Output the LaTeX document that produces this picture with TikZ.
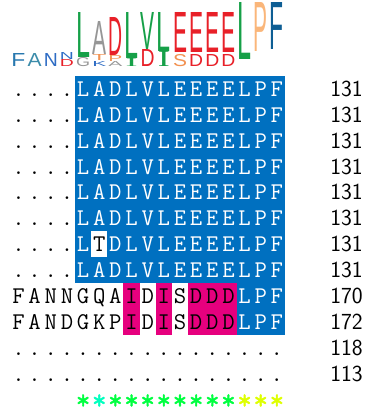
\documentclass[tikz,border=0pt]{standalone}
\usepackage{fontspec}
\usepackage{graphicx}
\newfontfamily\logofont{Liberation Sans}
\newfontfamily\logoserif{Liberation Serif}
\newfontfamily\starfont[FakeBold=1.5]{Latin Modern Mono}
\definecolor{alnblue}{RGB}{0,112,192}
\definecolor{alnpink}{RGB}{230,0,126}
\definecolor{lgreen}{RGB}{22,160,72}
\definecolor{lred}{RGB}{232,32,40}
\definecolor{lgray}{RGB}{150,150,150}
\definecolor{lorange}{RGB}{242,146,82}
\definecolor{lpeach}{RGB}{250,182,122}
\definecolor{lnavy}{RGB}{14,94,148}
\definecolor{lsteel}{RGB}{40,120,175}
\definecolor{lteal}{RGB}{60,140,170}
\definecolor{lblue}{RGB}{46,108,196}
\definecolor{stargreen}{RGB}{0,255,64}
\definecolor{starcyan}{RGB}{0,255,190}
\definecolor{staryellow}{RGB}{222,255,0}
\tikzset{
  res/.style={font=\ttfamily\fontsize{24}{24}\selectfont, inner sep=0pt, anchor=base},
  num/.style={font=\sffamily\fontsize{23}{23}\selectfont, inner sep=0pt, anchor=base east},
  logo/.style={inner sep=0pt, anchor=south},
  cons/.style={font=\starfont\fontsize{28}{28}\selectfont, inner sep=0pt, anchor=base},
}
\newcommand\colx[1]{18.5+16.15*#1}
% column, bottom, height, colour, letter
\newcommand\logochar[5]{%
  \node[logo, text=#4] (logo-#1-#5) at ({\colx{#1}},#2) {\resizebox{14pt}{#3pt}{\logofont #5}};}
\begin{document}
\begin{tikzpicture}[x=1pt, y=-1pt]
  \useasboundingbox (0,0) rectangle (370,412);
  % sequence logo
  \logochar{0}{67}{13}{lsteel}{F}
  \logochar{1}{67}{13}{lteal}{A}
  \logochar{2}{67}{13}{lblue}{N}
  \logochar{3}{67}{7}{lred}{D}
  \logochar{3}{60}{7}{lblue}{N}
  \logochar{4}{67}{9}{lgray}{G}
  \logochar{4}{58}{45}{lgreen}{L}
  \logochar{5}{67}{5}{lblue}{K}
  \logochar{5}{61}{6}{lorange}{T}
  \logochar{5}{55}{33}{lgray}{A}
  \logochar{6}{67}{5}{lgray}{A}
  \logochar{6}{62}{6}{lorange}{P}
  \logochar{6}{56}{38}{lred}{D}
  \node[logo, text=lgreen] (logo-7-I) at ({\colx{7}},67) {\resizebox{12pt}{8pt}{\logoserif I}};
  \logochar{7}{59}{46}{lgreen}{L}
  \logochar{8}{67}{17}{lred}{D}
  \logochar{8}{50}{37}{lgreen}{V}
  \node[logo, text=lgreen] (logo-9-I) at ({\colx{9}},67) {\resizebox{12pt}{15pt}{\logoserif I}};
  \logochar{9}{52}{39}{lgreen}{L}
  \logochar{10}{67}{12}{lorange}{S}
  \logochar{10}{53}{40}{lred}{E}
  \foreach \c in {11,12,13} {
    \logochar{\c}{67}{12}{lred}{D}
    \logochar{\c}{53}{40}{lred}{E}
  }
  \logochar{14}{60}{57}{lgreen}{L}
  \logochar{15}{52}{49}{lpeach}{P}
  \logochar{16}{50}{47}{lnavy}{F}
  % shading
  \fill[alnblue] (75,76) rectangle (285,283.2);
  \fill[white] (91.15,231.4) rectangle (107.3,257.3);
  \fill[alnblue] (236.5,283.2) rectangle (285,335);
  \fill[alnpink] (123.45,283.2) rectangle (139.6,335);
  \fill[alnpink] (155.75,283.2) rectangle (171.9,335);
  \fill[alnpink] (188.05,283.2) rectangle (236.5,335);
  % rows: index / residues / end number / first white column / black column
  \foreach \k/\seq/\num/\w/\b in {
      0/{.,.,.,.,L,A,D,L,V,L,E,E,E,E,L,P,F}/131/4/-1,
      1/{.,.,.,.,L,A,D,L,V,L,E,E,E,E,L,P,F}/131/4/-1,
      2/{.,.,.,.,L,A,D,L,V,L,E,E,E,E,L,P,F}/131/4/-1,
      3/{.,.,.,.,L,A,D,L,V,L,E,E,E,E,L,P,F}/131/4/-1,
      4/{.,.,.,.,L,A,D,L,V,L,E,E,E,E,L,P,F}/131/4/-1,
      5/{.,.,.,.,L,A,D,L,V,L,E,E,E,E,L,P,F}/131/4/-1,
      6/{.,.,.,.,L,T,D,L,V,L,E,E,E,E,L,P,F}/131/4/5,
      7/{.,.,.,.,L,A,D,L,V,L,E,E,E,E,L,P,F}/131/4/-1,
      8/{F,A,N,N,G,Q,A,I,D,I,S,D,D,D,L,P,F}/170/14/-1,
      9/{F,A,N,D,G,K,P,I,D,I,S,D,D,D,L,P,F}/172/14/-1,
      10/{.,.,.,.,.,.,.,.,.,.,.,.,.,.,.,.,.}/118/17/-1,
      11/{.,.,.,.,.,.,.,.,.,.,.,.,.,.,.,.,.}/113/17/-1} {
    \foreach \res [count=\c from 0] in \seq {
      \ifnum\c<\w \def\tc{black}\else\def\tc{white}\fi
      \ifnum\c=\b \def\tc{black}\fi
      \node[res, text=\tc] (res-\k-\c) at ({\colx{\c}},{96.3+25.9*\k}) {\res};
    }
    \node[num] (num-\k) at (363,{96.3+25.9*\k}) {\num};
  }
  % consensus
  \foreach \c/\sc in {4/stargreen, 5/starcyan, 6/stargreen, 7/stargreen,
      8/stargreen, 9/stargreen, 10/stargreen, 11/stargreen, 12/stargreen,
      13/stargreen, 14/staryellow, 15/staryellow, 16/staryellow}
    \node[cons, text=\sc] (star-\c) at ({\colx{\c}},409) {*};
\end{tikzpicture}
\end{document}
